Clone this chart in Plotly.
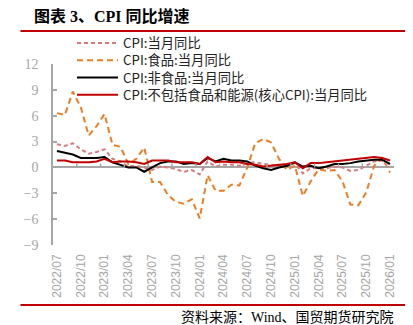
import plotly.graph_objects as go

months = ["2022/07","2022/08","2022/09","2022/10","2022/11","2022/12",
          "2023/01","2023/02","2023/03","2023/04","2023/05","2023/06",
          "2023/07","2023/08","2023/09","2023/10","2023/11","2023/12",
          "2024/01","2024/02","2024/03","2024/04","2024/05","2024/06",
          "2024/07","2024/08","2024/09","2024/10","2024/11","2024/12",
          "2025/01","2025/02","2025/03","2025/04","2025/05","2025/06",
          "2025/07","2025/08","2025/09","2025/10","2025/11","2025/12",
          "2026/01"]

cpi = [2.7, 2.5, 2.8, 2.1, 1.6, 1.8,
       2.1, 1.0, 0.7, 0.1, 0.2, 0.0, -0.3, 0.1, 0.0, -0.2, -0.5, -0.3,
       -0.8, 0.7, 0.1, 0.3, 0.3, 0.2, 0.5, 0.6, 0.4, 0.3, 0.2, 0.1,
       0.5, -0.7, -0.1, -0.1, -0.1, 0.1, 0.0, -0.4, -0.3, 0.2, 0.7, 0.8,
       0.3]
food = [6.3, 6.1, 8.8, 7.0, 3.7, 4.8,
        6.2, 2.6, 2.4, 0.4, 1.0, 2.3, -1.7, -1.7, -3.2, -4.0, -4.2, -3.7,
        -5.9, -0.9, -2.7, -2.7, -2.0, -2.1, 0.0, 2.8, 3.3, 2.9, 1.0, -0.3,
        0.2, -3.3, -1.6, -0.2, -0.4, -0.3, -1.6, -4.3, -4.4, -2.9, 0.2, 1.1,
        -0.6]
nonfood = [1.9, 1.7, 1.5, 1.1, 1.1, 1.1,
           1.2, 0.6, 0.3, 0.0, 0.0, -0.5, 0.0, 0.5, 0.7, 0.7, 0.4, 0.5,
           0.4, 1.1, 0.7, 1.0, 0.8, 0.8, 0.7, 0.2, -0.1, -0.3, 0.0, 0.2,
           0.6, 0.1, 0.2, -0.1, 0.1, 0.4, 0.4, 0.5, 0.7, 0.8, 0.9, 0.9,
           0.4]
core = [0.8, 0.8, 0.6, 0.6, 0.6, 0.7,
        1.0, 0.6, 0.7, 0.7, 0.6, 0.4, 0.8, 0.8, 0.8, 0.6, 0.6, 0.6,
        0.4, 1.2, 0.6, 0.7, 0.6, 0.6, 0.4, 0.3, 0.1, 0.2, 0.3, 0.4,
        0.6, -0.1, 0.5, 0.5, 0.6, 0.7, 0.8, 0.9, 1.0, 1.1, 1.2, 1.1,
        0.8]

series_names = ["CPI:当月同比", "CPI:食品:当月同比", "CPI:非食品:当月同比",
                "CPI:不包括食品和能源(核心CPI):当月同比"]
y_ticks = [-9, -6, -3, 0, 3, 6, 9, 12]

W, H = 413, 325
ML, MR, MT, MB = 53, 19, 64, 80
PW, PH = W - ML - MR, H - MT - MB


def px(xp):
    return (xp - ML) / PW


def py(yp):
    return 1 + (MT - yp) / PH


x = list(range(len(months)))
tick_idx = list(range(0, len(months), 3))

styles = [dict(color="#D97B7E", width=2, dash="4px,3px"),
          dict(color="#EE7D22", width=2, dash="6px,4px"),
          dict(color="#000000", width=2),
          dict(color="#C00000", width=2)]

fig = go.Figure()
for name, vals, st in zip(series_names, [cpi, food, nonfood, core], styles):
    fig.add_trace(go.Scatter(x=x, y=vals, mode="lines", name=name,
                             line=st, showlegend=False))

# custom legend: line samples + one multi-line text block
LEG_FS = 13.3
row_gap = LEG_FS * 1.3
rows = [43 + i * row_gap for i in range(len(series_names))]
for yrow, st in zip(rows, styles):
    fig.add_shape(type="line", xref="paper", yref="paper",
                  x0=px(77), x1=px(118), y0=py(yrow), y1=py(yrow), line=st)
fig.add_annotation(xref="paper", yref="paper", x=px(122),
                   y=py((rows[0] + rows[-1]) / 2),
                   xanchor="left", yanchor="middle", align="left",
                   showarrow=False, borderpad=0,
                   text="<br>".join(series_names),
                   font=dict(family="Noto Sans CJK SC", size=LEG_FS, color="#222222"))

# small tick marks on the zero line, between categories every 3 months
for b in range(2, len(months) - 1, 3):
    fig.add_shape(type="line", xref="x", yref="y", x0=b + 0.5, x1=b + 0.5,
                  y0=0, y1=0.45, line=dict(color="#A6A6A6", width=1.5))

# red rules and texts
fig.add_shape(type="line", xref="paper", yref="paper",
              x0=px(20.5), x1=px(405), y0=py(31), y1=py(31),
              line=dict(color="#C00000", width=2))
fig.add_shape(type="line", xref="paper", yref="paper",
              x0=px(20.5), x1=px(405), y0=py(305), y1=py(305),
              line=dict(color="#C00000", width=2))

fig.add_annotation(xref="paper", yref="paper", x=px(31.5), y=py(16),
                   xanchor="left", yanchor="middle", showarrow=False,
                   text="<b>图表 3、CPI 同比增速</b>",
                   font=dict(family="Liberation Serif, Noto Sans CJK SC", size=16, color="#000000"))
fig.add_annotation(xref="paper", yref="paper", x=px(395.5), y=py(316.5),
                   xanchor="right", yanchor="middle", showarrow=False,
                   text="资料来源：Wind、国贸期货研究院",
                   font=dict(family="Liberation Serif, Noto Sans CJK SC", size=14, color="#000000"))

fig.update_layout(
    width=W, height=H,
    margin=dict(l=ML, r=MR, t=MT, b=MB),
    paper_bgcolor="white", plot_bgcolor="white",
    showlegend=False,
    xaxis=dict(range=[-0.5, len(months) - 0.5], tickmode="array",
               tickvals=tick_idx, ticktext=[months[i] for i in tick_idx],
               tickangle=-90, showgrid=False, zeroline=False, showline=False,
               ticks="", ticklabelstandoff=6,
               tickfont=dict(family="Liberation Sans, Arial", size=12, color="#A6A6A6")),
    yaxis=dict(range=[-9, 12], tickmode="array", tickvals=y_ticks,
               showgrid=False, zeroline=True, zerolinecolor="#A6A6A6", zerolinewidth=1.5,
               showline=True, linecolor="#A6A6A6", linewidth=1.5,
               ticks="inside", ticklen=4, tickcolor="#A6A6A6", tickwidth=1.5,
               ticklabelstandoff=10,
               tickfont=dict(family="Liberation Serif, Times New Roman", size=14, color="#A6A6A6")),
)

fig.write_html("out.html")
